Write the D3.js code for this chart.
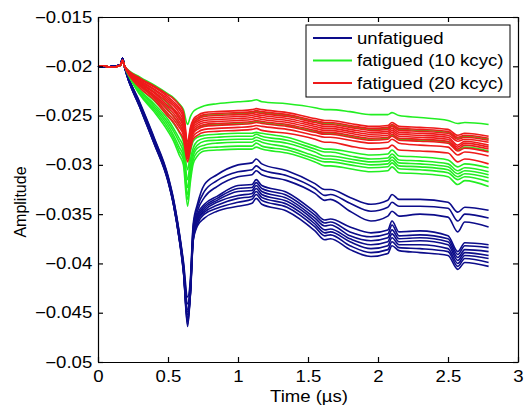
<!DOCTYPE html>
<html><head><meta charset="utf-8">
<script src="https://cdn.jsdelivr.net/npm/d3@7"></script>
<style>body{margin:0;background:#fff}svg{display:block}text{font-family:"Liberation Sans",Arial,sans-serif;fill:#000}</style>
</head><body><svg id="c" width="527" height="411"></svg>
<script>
const leadTime = [0, 0.05, 0.1, 0.16, 0.175];
const leadUnfatigued = [-0.0200, -0.0201, -0.0200, -0.0199, -0.0192];
const leadFatigued = [-0.0200, -0.0200, -0.0201, -0.0199, -0.0194];
const time = [0.19,0.3,0.4,0.5,0.54,0.58,0.61,0.64,0.66,0.68,0.71,0.76,0.85,1.0,1.1,1.13,1.17,1.35,1.55,1.62,1.66,1.8,1.95,2.07,2.1,2.15,2.3,2.5,2.57,2.62,2.79];

const unfatigued = [
 [-0.0200,-0.0237,-0.0272,-0.0311,-0.0335,-0.0368,-0.0398,-0.0434,-0.0416,-0.0360,-0.0340,-0.0320,-0.0310,-0.0300,-0.0298,-0.0294,-0.0299,-0.0306,-0.0319,-0.0325,-0.0325,-0.0333,-0.0340,-0.0336,-0.0330,-0.0335,-0.0335,-0.0338,-0.0348,-0.0343,-0.0346],
 [-0.0200,-0.0238,-0.0273,-0.0312,-0.0336,-0.0369,-0.0400,-0.0441,-0.0419,-0.0363,-0.0343,-0.0327,-0.0316,-0.0307,-0.0305,-0.0301,-0.0305,-0.0311,-0.0324,-0.0331,-0.0330,-0.0339,-0.0347,-0.0343,-0.0338,-0.0342,-0.0342,-0.0344,-0.0357,-0.0350,-0.0354],
 [-0.0200,-0.0239,-0.0274,-0.0313,-0.0337,-0.0370,-0.0402,-0.0447,-0.0422,-0.0366,-0.0347,-0.0333,-0.0322,-0.0312,-0.0310,-0.0306,-0.0310,-0.0316,-0.0329,-0.0336,-0.0335,-0.0347,-0.0357,-0.0352,-0.0347,-0.0352,-0.0350,-0.0353,-0.0368,-0.0358,-0.0363],
 [-0.0200,-0.0239,-0.0274,-0.0314,-0.0338,-0.0371,-0.0403,-0.0452,-0.0424,-0.0369,-0.0350,-0.0340,-0.0332,-0.0321,-0.0320,-0.0315,-0.0321,-0.0328,-0.0348,-0.0356,-0.0355,-0.0363,-0.0369,-0.0366,-0.0357,-0.0368,-0.0367,-0.0372,-0.0388,-0.0379,-0.0381],
 [-0.0201,-0.0240,-0.0275,-0.0314,-0.0339,-0.0372,-0.0404,-0.0455,-0.0426,-0.0371,-0.0352,-0.0342,-0.0334,-0.0324,-0.0323,-0.0318,-0.0324,-0.0331,-0.0351,-0.0359,-0.0358,-0.0368,-0.0373,-0.0370,-0.0361,-0.0372,-0.0371,-0.0375,-0.0391,-0.0382,-0.0384],
 [-0.0201,-0.0240,-0.0275,-0.0315,-0.0339,-0.0373,-0.0405,-0.0459,-0.0428,-0.0372,-0.0354,-0.0344,-0.0336,-0.0327,-0.0326,-0.0321,-0.0327,-0.0334,-0.0354,-0.0362,-0.0361,-0.0372,-0.0377,-0.0374,-0.0366,-0.0375,-0.0374,-0.0378,-0.0394,-0.0386,-0.0388],
 [-0.0201,-0.0241,-0.0277,-0.0315,-0.0340,-0.0374,-0.0406,-0.0462,-0.0429,-0.0374,-0.0356,-0.0346,-0.0338,-0.0331,-0.0329,-0.0324,-0.0330,-0.0337,-0.0357,-0.0366,-0.0365,-0.0375,-0.0381,-0.0378,-0.0370,-0.0378,-0.0377,-0.0381,-0.0397,-0.0389,-0.0392],
 [-0.0201,-0.0241,-0.0277,-0.0316,-0.0340,-0.0374,-0.0407,-0.0464,-0.0430,-0.0375,-0.0357,-0.0348,-0.0341,-0.0334,-0.0332,-0.0327,-0.0333,-0.0340,-0.0360,-0.0369,-0.0368,-0.0378,-0.0385,-0.0382,-0.0374,-0.0381,-0.0381,-0.0385,-0.0400,-0.0392,-0.0395],
 [-0.0201,-0.0242,-0.0278,-0.0316,-0.0341,-0.0375,-0.0408,-0.0457,-0.0431,-0.0376,-0.0360,-0.0350,-0.0344,-0.0338,-0.0335,-0.0330,-0.0336,-0.0343,-0.0363,-0.0372,-0.0371,-0.0382,-0.0389,-0.0386,-0.0378,-0.0384,-0.0385,-0.0388,-0.0403,-0.0395,-0.0399],
 [-0.0201,-0.0242,-0.0278,-0.0317,-0.0341,-0.0375,-0.0408,-0.0449,-0.0432,-0.0377,-0.0362,-0.0354,-0.0347,-0.0342,-0.0339,-0.0334,-0.0340,-0.0347,-0.0367,-0.0376,-0.0375,-0.0386,-0.0393,-0.0390,-0.0382,-0.0387,-0.0389,-0.0392,-0.0406,-0.0399,-0.0403]
];

const fatigued10 = [
 [-0.0200,-0.0211,-0.0219,-0.0228,-0.0232,-0.0238,-0.0244,-0.0259,-0.0251,-0.0246,-0.0243,-0.0240,-0.0238,-0.0236,-0.0235,-0.0234,-0.0236,-0.0238,-0.0242,-0.0244,-0.0244,-0.0246,-0.0249,-0.0249,-0.0247,-0.0250,-0.0252,-0.0255,-0.0258,-0.0257,-0.0259],
 [-0.0200,-0.0216,-0.0226,-0.0238,-0.0244,-0.0252,-0.0260,-0.0285,-0.0270,-0.0260,-0.0254,-0.0250,-0.0249,-0.0248,-0.0247,-0.0246,-0.0247,-0.0250,-0.0256,-0.0258,-0.0258,-0.0261,-0.0264,-0.0263,-0.0260,-0.0264,-0.0265,-0.0267,-0.0273,-0.0271,-0.0274],
 [-0.0200,-0.0219,-0.0231,-0.0244,-0.0251,-0.0259,-0.0267,-0.0293,-0.0276,-0.0267,-0.0262,-0.0260,-0.0259,-0.0258,-0.0257,-0.0256,-0.0257,-0.0260,-0.0266,-0.0268,-0.0268,-0.0271,-0.0274,-0.0273,-0.0270,-0.0274,-0.0275,-0.0277,-0.0285,-0.0282,-0.0286],
 [-0.0200,-0.0222,-0.0235,-0.0250,-0.0258,-0.0267,-0.0277,-0.0305,-0.0287,-0.0276,-0.0272,-0.0270,-0.0269,-0.0268,-0.0268,-0.0267,-0.0268,-0.0272,-0.0281,-0.0284,-0.0284,-0.0287,-0.0290,-0.0289,-0.0285,-0.0291,-0.0292,-0.0295,-0.0302,-0.0299,-0.0303],
 [-0.0200,-0.0224,-0.0238,-0.0254,-0.0263,-0.0273,-0.0282,-0.0315,-0.0295,-0.0283,-0.0276,-0.0273,-0.0272,-0.0271,-0.0271,-0.0269,-0.0271,-0.0275,-0.0284,-0.0287,-0.0287,-0.0291,-0.0294,-0.0293,-0.0289,-0.0295,-0.0296,-0.0299,-0.0306,-0.0303,-0.0307],
 [-0.0200,-0.0225,-0.0240,-0.0257,-0.0266,-0.0277,-0.0287,-0.0323,-0.0301,-0.0287,-0.0280,-0.0276,-0.0275,-0.0274,-0.0274,-0.0272,-0.0274,-0.0278,-0.0287,-0.0291,-0.0291,-0.0294,-0.0297,-0.0296,-0.0292,-0.0298,-0.0299,-0.0302,-0.0309,-0.0306,-0.0310],
 [-0.0200,-0.0227,-0.0242,-0.0260,-0.0270,-0.0282,-0.0291,-0.0330,-0.0307,-0.0291,-0.0283,-0.0280,-0.0278,-0.0277,-0.0277,-0.0275,-0.0277,-0.0282,-0.0291,-0.0294,-0.0294,-0.0297,-0.0300,-0.0299,-0.0295,-0.0301,-0.0302,-0.0305,-0.0312,-0.0309,-0.0313],
 [-0.0200,-0.0228,-0.0244,-0.0263,-0.0273,-0.0286,-0.0295,-0.0335,-0.0312,-0.0295,-0.0287,-0.0283,-0.0282,-0.0281,-0.0281,-0.0278,-0.0281,-0.0285,-0.0294,-0.0297,-0.0297,-0.0300,-0.0303,-0.0302,-0.0298,-0.0304,-0.0305,-0.0308,-0.0315,-0.0312,-0.0317],
 [-0.0200,-0.0229,-0.0246,-0.0266,-0.0276,-0.0290,-0.0300,-0.0342,-0.0317,-0.0299,-0.0291,-0.0286,-0.0285,-0.0284,-0.0284,-0.0282,-0.0284,-0.0288,-0.0297,-0.0301,-0.0301,-0.0304,-0.0307,-0.0306,-0.0302,-0.0308,-0.0309,-0.0312,-0.0320,-0.0316,-0.0322]
];

const fatigued20 = [
 [-0.0200,-0.0212,-0.0220,-0.0229,-0.0233,-0.0239,-0.0246,-0.0277,-0.0262,-0.0254,-0.0250,-0.0247,-0.0246,-0.0245,-0.0244,-0.0243,-0.0244,-0.0247,-0.0253,-0.0255,-0.0255,-0.0258,-0.0261,-0.0260,-0.0257,-0.0261,-0.0262,-0.0264,-0.0270,-0.0268,-0.0271],
 [-0.0200,-0.0213,-0.0221,-0.0231,-0.0236,-0.0242,-0.0249,-0.0280,-0.0264,-0.0256,-0.0252,-0.0249,-0.0248,-0.0247,-0.0246,-0.0245,-0.0246,-0.0249,-0.0255,-0.0257,-0.0257,-0.0260,-0.0263,-0.0262,-0.0259,-0.0263,-0.0264,-0.0266,-0.0272,-0.0270,-0.0273],
 [-0.0200,-0.0214,-0.0223,-0.0233,-0.0238,-0.0244,-0.0252,-0.0282,-0.0266,-0.0258,-0.0254,-0.0251,-0.0250,-0.0249,-0.0248,-0.0247,-0.0248,-0.0251,-0.0257,-0.0259,-0.0259,-0.0262,-0.0265,-0.0264,-0.0261,-0.0265,-0.0266,-0.0268,-0.0274,-0.0272,-0.0275],
 [-0.0200,-0.0215,-0.0224,-0.0235,-0.0240,-0.0247,-0.0255,-0.0284,-0.0268,-0.0260,-0.0256,-0.0253,-0.0252,-0.0251,-0.0250,-0.0249,-0.0250,-0.0253,-0.0259,-0.0261,-0.0261,-0.0264,-0.0267,-0.0266,-0.0263,-0.0267,-0.0268,-0.0270,-0.0276,-0.0274,-0.0277],
 [-0.0200,-0.0216,-0.0226,-0.0237,-0.0243,-0.0250,-0.0258,-0.0286,-0.0270,-0.0262,-0.0258,-0.0255,-0.0254,-0.0253,-0.0252,-0.0251,-0.0252,-0.0255,-0.0261,-0.0263,-0.0263,-0.0266,-0.0269,-0.0268,-0.0265,-0.0269,-0.0270,-0.0272,-0.0280,-0.0276,-0.0280],
 [-0.0200,-0.0217,-0.0227,-0.0240,-0.0245,-0.0253,-0.0261,-0.0288,-0.0273,-0.0264,-0.0260,-0.0257,-0.0256,-0.0255,-0.0254,-0.0253,-0.0254,-0.0257,-0.0263,-0.0265,-0.0265,-0.0268,-0.0271,-0.0270,-0.0267,-0.0271,-0.0272,-0.0274,-0.0282,-0.0278,-0.0282],
 [-0.0200,-0.0218,-0.0229,-0.0242,-0.0248,-0.0256,-0.0264,-0.0290,-0.0275,-0.0266,-0.0262,-0.0259,-0.0258,-0.0257,-0.0256,-0.0255,-0.0256,-0.0259,-0.0265,-0.0267,-0.0267,-0.0270,-0.0273,-0.0272,-0.0269,-0.0273,-0.0274,-0.0276,-0.0284,-0.0280,-0.0284],
 [-0.0200,-0.0219,-0.0230,-0.0245,-0.0251,-0.0259,-0.0267,-0.0292,-0.0277,-0.0268,-0.0264,-0.0261,-0.0260,-0.0259,-0.0258,-0.0257,-0.0258,-0.0261,-0.0267,-0.0269,-0.0269,-0.0272,-0.0275,-0.0274,-0.0271,-0.0275,-0.0276,-0.0278,-0.0286,-0.0283,-0.0287],
 [-0.0200,-0.0220,-0.0232,-0.0248,-0.0254,-0.0262,-0.0270,-0.0294,-0.0281,-0.0271,-0.0267,-0.0264,-0.0263,-0.0262,-0.0261,-0.0260,-0.0261,-0.0264,-0.0270,-0.0272,-0.0272,-0.0275,-0.0278,-0.0277,-0.0274,-0.0278,-0.0280,-0.0282,-0.0290,-0.0287,-0.0291],
 [-0.0200,-0.0222,-0.0234,-0.0251,-0.0257,-0.0266,-0.0274,-0.0297,-0.0284,-0.0274,-0.0270,-0.0267,-0.0266,-0.0265,-0.0264,-0.0263,-0.0265,-0.0268,-0.0274,-0.0277,-0.0277,-0.0281,-0.0284,-0.0283,-0.0280,-0.0285,-0.0286,-0.0288,-0.0297,-0.0294,-0.0299]
];

const xTicks = [0, 0.5, 1, 1.5, 2, 2.5, 3];
const xTickLabels = ["0", "0.5", "1", "1.5", "2", "2.5", "3"];
const yTicks = [-0.05, -0.045, -0.04, -0.035, -0.03, -0.025, -0.02, -0.015];
const yTickLabels = ["\u22120.05", "\u22120.045", "\u22120.04", "\u22120.035", "\u22120.03", "\u22120.025", "\u22120.02", "\u22120.015"];
const legendLabels = ["unfatigued", "fatigued (10 kcyc)", "fatigued (20 kcyc)"];
const groupColors = ["#0c0c8a", "#22ee22", "#ee1a1a"];

const svg = d3.select("#c");
const x = d3.scaleLinear().domain([0, 3]).range([98, 518]);
const y = d3.scaleLinear().domain([-0.05, -0.015]).range([362, 17]);
const SX = 1.16;

const line = d3.line().x(d => x(d[0])).y(d => y(d[1])).curve(d3.curveMonotoneX);
const groups = [[unfatigued, leadUnfatigued], [fatigued10, leadFatigued], [fatigued20, leadFatigued]];
const plot = svg.append("g");
groups.forEach(([series, lead], gi) => {
  series.forEach(s => {
    const pts = leadTime.map((t, i) => [t, lead[i]])
      .concat(time.map((t, i) => [t, s[i]]).filter(p => p[1] !== undefined));
    plot.append("path").attr("d", line(pts)).attr("fill", "none")
      .attr("stroke", groupColors[gi]).attr("stroke-width", 1.6).attr("stroke-linejoin", "round");
  });
});

function styleAxis(g) {
  g.select(".domain").attr("stroke", "#000").attr("stroke-width", 1.2);
  g.selectAll(".tick line").attr("stroke", "#000").attr("stroke-width", 1.2);
  g.selectAll("text").attr("font-size", 16).attr("font-family", "Liberation Sans, Arial, sans-serif").attr("fill", "#000");
}
const gx = svg.append("g").attr("transform", "translate(0,362)")
  .call(d3.axisBottom(x).tickValues(xTicks).tickFormat((d, i) => xTickLabels[i]).tickSizeInner(-5).tickSizeOuter(0).tickPadding(9));
styleAxis(gx); gx.selectAll("text").attr("transform", `scale(${SX},1)`);
const gy = svg.append("g").attr("transform", "translate(98,0)")
  .call(d3.axisLeft(y).tickValues(yTicks).tickFormat((d, i) => yTickLabels[i]).tickSizeInner(-5).tickSizeOuter(0).tickPadding(5));
styleAxis(gy); gy.selectAll("text").attr("transform", `scale(${SX},1)`);
const gt = svg.append("g").attr("transform", "translate(0,17)")
  .call(d3.axisTop(x).tickValues(xTicks).tickFormat("").tickSizeInner(-5).tickSizeOuter(0));
styleAxis(gt);
const gr = svg.append("g").attr("transform", "translate(518,0)")
  .call(d3.axisRight(y).tickValues(yTicks).tickFormat("").tickSizeInner(-5).tickSizeOuter(0));
styleAxis(gr);

svg.append("text").attr("transform", `translate(309,402) scale(${SX},1)`).attr("text-anchor", "middle")
  .attr("font-size", 16).text("Time (\u00b5s)");
svg.append("text").attr("transform", "translate(26,202) rotate(-90)").attr("text-anchor", "middle")
  .attr("font-size", 16).text("Amplitude");

const leg = svg.append("g");
leg.append("rect").attr("x", 306).attr("y", 25).attr("width", 204).attr("height", 72)
  .attr("fill", "#fff").attr("stroke", "#000").attr("stroke-width", 1);
legendLabels.forEach((lab, i) => {
  const ly = 38 + i * 22.5;
  leg.append("line").attr("x1", 313).attr("x2", 352).attr("y1", ly).attr("y2", ly)
    .attr("stroke", groupColors[i]).attr("stroke-width", 1.8);
  leg.append("text").attr("transform", `translate(357,${ly + 5.5}) scale(${SX},1)`)
    .attr("font-size", 16).text(lab);
});
</script></body></html>
